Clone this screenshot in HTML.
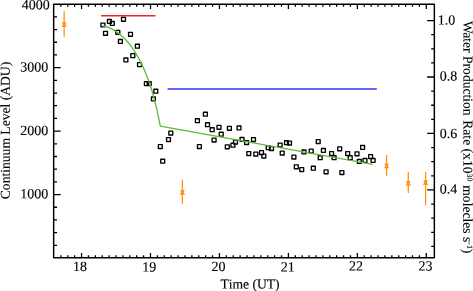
<!DOCTYPE html>
<html><head><meta charset="utf-8"><title>Continuum Level and Water Production Rate</title>
<style>html,body{margin:0;padding:0;background:#fff;}body{width:473px;height:291px;overflow:hidden;}svg{display:block;will-change:transform;}text{font-family:'Liberation Serif',serif;font-size:14px;fill:#000;stroke:#000;stroke-width:0.12px;font-kerning:none;white-space:pre;}</style></head><body>
<svg width="473" height="291" viewBox="0 0 473 291">
<rect width="473" height="291" fill="#fff"/>
<path d="M64.15 11.3V36.8" stroke="#ff9412" stroke-width="1.3" fill="none"/>
<path d="M61.95 22.20L66.35 22.20L65.45 24.50L66.85 26.80L61.45 26.80L62.85 24.50Z" fill="#ff9412"/>
<path d="M182.4 179.6V204.1" stroke="#ff9412" stroke-width="1.3" fill="none"/>
<path d="M180.20 190.10L184.60 190.10L183.70 192.40L185.10 194.70L179.70 194.70L181.10 192.40Z" fill="#ff9412"/>
<path d="M386.6 154.9V175.8" stroke="#ff9412" stroke-width="1.3" fill="none"/>
<path d="M384.40 163.60L388.80 163.60L387.90 165.90L389.30 168.20L383.90 168.20L385.30 165.90Z" fill="#ff9412"/>
<path d="M408.3 172.0V193.0" stroke="#ff9412" stroke-width="1.3" fill="none"/>
<path d="M406.10 180.90L410.50 180.90L409.60 183.20L411.00 185.50L405.60 185.50L407.00 183.20Z" fill="#ff9412"/>
<path d="M425.6 171.8V205.3" stroke="#ff9412" stroke-width="1.3" fill="none"/>
<path d="M423.40 180.30L427.80 180.30L426.90 182.60L428.30 184.90L422.90 184.90L424.30 182.60Z" fill="#ff9412"/>
<path d="M101.1 15.7H155.5" stroke="#e8262e" stroke-width="1.5" fill="none"/>
<path d="M167.6 89.0H376.8" stroke="#3434ff" stroke-width="1.5" fill="none"/>
<path d="M100.95 23.05h3.9v3.9h-3.9zM107.45 19.45h3.9v3.9h-3.9zM110.35 21.45h3.9v3.9h-3.9zM121.55 17.35h3.9v3.9h-3.9zM103.55 31.35h3.9v3.9h-3.9zM115.85 30.35h3.9v3.9h-3.9zM128.55 32.35h3.9v3.9h-3.9zM118.45 39.45h3.9v3.9h-3.9zM135.45 44.25h3.9v3.9h-3.9zM130.85 53.65h3.9v3.9h-3.9zM123.95 57.95h3.9v3.9h-3.9zM137.55 62.65h3.9v3.9h-3.9zM144.45 81.65h3.9v3.9h-3.9zM147.25 81.65h3.9v3.9h-3.9zM153.85 89.25h3.9v3.9h-3.9zM151.45 96.95h3.9v3.9h-3.9zM168.85 131.15h3.9v3.9h-3.9zM166.55 137.65h3.9v3.9h-3.9zM158.35 144.55h3.9v3.9h-3.9zM160.75 159.25h3.9v3.9h-3.9zM197.45 144.55h3.9v3.9h-3.9zM203.45 112.25h3.9v3.9h-3.9zM195.45 118.75h3.9v3.9h-3.9zM205.55 122.75h3.9v3.9h-3.9zM210.25 127.75h3.9v3.9h-3.9zM217.05 125.35h3.9v3.9h-3.9zM227.45 126.35h3.9v3.9h-3.9zM237.05 125.95h3.9v3.9h-3.9zM219.25 132.25h3.9v3.9h-3.9zM212.15 138.15h3.9v3.9h-3.9zM233.55 140.15h3.9v3.9h-3.9zM230.95 143.25h3.9v3.9h-3.9zM225.35 144.85h3.9v3.9h-3.9zM240.05 137.45h3.9v3.9h-3.9zM244.65 140.65h3.9v3.9h-3.9zM251.55 137.65h3.9v3.9h-3.9zM266.25 145.75h3.9v3.9h-3.9zM269.55 146.55h3.9v3.9h-3.9zM278.15 143.05h3.9v3.9h-3.9zM284.55 140.75h3.9v3.9h-3.9zM287.55 141.15h3.9v3.9h-3.9zM246.85 151.65h3.9v3.9h-3.9zM253.85 152.15h3.9v3.9h-3.9zM259.55 150.55h3.9v3.9h-3.9zM261.85 154.05h3.9v3.9h-3.9zM280.25 151.05h3.9v3.9h-3.9zM291.95 155.05h3.9v3.9h-3.9zM294.35 164.85h3.9v3.9h-3.9zM299.75 167.55h3.9v3.9h-3.9zM302.05 149.95h3.9v3.9h-3.9zM309.25 149.05h3.9v3.9h-3.9zM316.25 139.55h3.9v3.9h-3.9zM321.45 148.45h3.9v3.9h-3.9zM318.25 155.75h3.9v3.9h-3.9zM329.65 151.55h3.9v3.9h-3.9zM332.15 155.75h3.9v3.9h-3.9zM337.75 146.85h3.9v3.9h-3.9zM345.75 151.55h3.9v3.9h-3.9zM348.25 155.75h3.9v3.9h-3.9zM355.05 151.85h3.9v3.9h-3.9zM360.65 145.45h3.9v3.9h-3.9zM357.35 159.45h3.9v3.9h-3.9zM363.05 158.45h3.9v3.9h-3.9zM368.65 154.65h3.9v3.9h-3.9zM371.15 158.45h3.9v3.9h-3.9zM311.35 166.25h3.9v3.9h-3.9zM324.15 169.85h3.9v3.9h-3.9zM339.95 170.55h3.9v3.9h-3.9z" stroke="#000" stroke-width="1.35" stroke-linejoin="round" fill="none"/>
<path d="M103.10 25.79C103.59 25.93 105.08 26.32 106.05 26.64C107.01 26.96 107.95 27.31 108.88 27.70C109.80 28.08 110.71 28.50 111.60 28.95C112.49 29.39 113.37 29.88 114.22 30.38C115.08 30.89 115.92 31.43 116.74 31.99C117.56 32.55 118.37 33.15 119.16 33.76C119.95 34.38 120.73 35.02 121.48 35.68C122.24 36.35 122.99 37.04 123.71 37.74C124.44 38.45 125.15 39.19 125.85 39.93C126.55 40.68 127.23 41.46 127.90 42.24C128.57 43.03 129.22 43.84 129.86 44.66C130.50 45.48 131.13 46.32 131.74 47.17C132.36 48.02 132.96 48.89 133.54 49.76C134.13 50.64 134.70 51.53 135.26 52.43C135.82 53.33 136.37 54.25 136.91 55.16C137.44 56.08 137.97 57.01 138.48 57.95C138.99 58.88 139.49 59.82 139.98 60.77C140.47 61.71 140.95 62.67 141.42 63.62C141.88 64.57 142.34 65.53 142.79 66.49C143.23 67.45 143.67 68.42 144.09 69.38C144.52 70.35 144.94 71.32 145.34 72.29C145.75 73.26 146.14 74.23 146.53 75.21C146.92 76.19 147.30 77.17 147.66 78.15C148.03 79.13 148.39 80.11 148.75 81.10C149.10 82.08 149.44 83.07 149.78 84.06C150.11 85.05 150.44 86.04 150.76 87.04C151.08 88.03 151.39 89.02 151.70 90.02C152.00 91.02 152.30 92.01 152.59 93.01C152.89 94.01 153.17 95.01 153.45 96.01C153.73 97.02 154.00 98.02 154.26 99.02C154.53 100.03 154.79 101.03 155.05 102.03C155.30 103.04 155.55 104.05 155.79 105.05C156.04 106.06 156.28 107.07 156.51 108.07C156.74 109.08 156.97 110.09 157.20 111.10C157.42 112.10 157.64 113.11 157.86 114.12C158.08 115.13 158.29 116.13 158.50 117.14C158.71 118.15 158.92 119.16 159.12 120.16C159.32 121.17 159.52 122.18 159.72 123.18C159.92 124.19 160.21 125.70 160.30 126.20L372.7 164.4" stroke="#5cbb3c" stroke-width="1.3" fill="none" stroke-linejoin="round"/>
<path d="M60.86 257.70v-2.4M60.86 4.30v2.4M67.76 257.70v-2.4M67.76 4.30v2.4M74.65 257.70v-2.4M74.65 4.30v2.4M81.55 257.70v-4.8M81.55 4.30v4.8M88.45 257.70v-2.4M88.45 4.30v2.4M95.34 257.70v-2.4M95.34 4.30v2.4M102.24 257.70v-2.4M102.24 4.30v2.4M109.13 257.70v-2.4M109.13 4.30v2.4M116.03 257.70v-2.4M116.03 4.30v2.4M122.92 257.70v-2.4M122.92 4.30v2.4M129.81 257.70v-2.4M129.81 4.30v2.4M136.71 257.70v-2.4M136.71 4.30v2.4M143.60 257.70v-2.4M143.60 4.30v2.4M150.50 257.70v-4.8M150.50 4.30v4.8M157.40 257.70v-2.4M157.40 4.30v2.4M164.29 257.70v-2.4M164.29 4.30v2.4M171.19 257.70v-2.4M171.19 4.30v2.4M178.08 257.70v-2.4M178.08 4.30v2.4M184.98 257.70v-2.4M184.98 4.30v2.4M191.87 257.70v-2.4M191.87 4.30v2.4M198.76 257.70v-2.4M198.76 4.30v2.4M205.66 257.70v-2.4M205.66 4.30v2.4M212.55 257.70v-2.4M212.55 4.30v2.4M219.45 257.70v-4.8M219.45 4.30v4.8M226.35 257.70v-2.4M226.35 4.30v2.4M233.24 257.70v-2.4M233.24 4.30v2.4M240.14 257.70v-2.4M240.14 4.30v2.4M247.03 257.70v-2.4M247.03 4.30v2.4M253.93 257.70v-2.4M253.93 4.30v2.4M260.82 257.70v-2.4M260.82 4.30v2.4M267.71 257.70v-2.4M267.71 4.30v2.4M274.61 257.70v-2.4M274.61 4.30v2.4M281.50 257.70v-2.4M281.50 4.30v2.4M288.40 257.70v-4.8M288.40 4.30v4.8M295.30 257.70v-2.4M295.30 4.30v2.4M302.19 257.70v-2.4M302.19 4.30v2.4M309.09 257.70v-2.4M309.09 4.30v2.4M315.98 257.70v-2.4M315.98 4.30v2.4M322.88 257.70v-2.4M322.88 4.30v2.4M329.77 257.70v-2.4M329.77 4.30v2.4M336.66 257.70v-2.4M336.66 4.30v2.4M343.56 257.70v-2.4M343.56 4.30v2.4M350.45 257.70v-2.4M350.45 4.30v2.4M357.35 257.70v-4.8M357.35 4.30v4.8M364.25 257.70v-2.4M364.25 4.30v2.4M371.14 257.70v-2.4M371.14 4.30v2.4M378.04 257.70v-2.4M378.04 4.30v2.4M384.93 257.70v-2.4M384.93 4.30v2.4M391.83 257.70v-2.4M391.83 4.30v2.4M398.72 257.70v-2.4M398.72 4.30v2.4M405.61 257.70v-2.4M405.61 4.30v2.4M412.51 257.70v-2.4M412.51 4.30v2.4M419.40 257.70v-2.4M419.40 4.30v2.4M426.30 257.70v-4.8M426.30 4.30v4.8M53.65 245.31h3.4M53.65 232.62h3.4M53.65 219.93h3.4M53.65 207.24h3.4M53.65 194.55h7.0M53.65 181.86h3.4M53.65 169.17h3.4M53.65 156.48h3.4M53.65 143.79h3.4M53.65 131.10h7.0M53.65 118.41h3.4M53.65 105.72h3.4M53.65 93.03h3.4M53.65 80.34h3.4M53.65 67.65h7.0M53.65 54.96h3.4M53.65 42.27h3.4M53.65 29.58h3.4M53.65 16.89h3.4M434.35 246.39h-3.2M434.35 232.28h-3.2M434.35 218.16h-3.2M434.35 204.04h-3.2M434.35 189.93h-7.2M434.35 175.82h-3.2M434.35 161.70h-3.2M434.35 147.59h-3.2M434.35 133.47h-7.2M434.35 119.35h-3.2M434.35 105.24h-3.2M434.35 91.12h-3.2M434.35 77.01h-7.2M434.35 62.89h-3.2M434.35 48.78h-3.2M434.35 34.66h-3.2M434.35 20.55h-7.2" stroke="#000" stroke-width="1.3" fill="none"/>
<path d="M53.65 4.3H434.35V257.7H53.65Z" stroke="#000" stroke-width="1.45" stroke-linejoin="round" fill="none"/>
<g class="t"><text transform="rotate(0.05 49.70 9.30)" x="49.70" y="9.30" text-anchor="end">4000</text><text transform="rotate(0.05 48.30 71.55)" x="48.30" y="71.55" text-anchor="end">3000</text><text transform="rotate(0.05 48.30 135.00)" x="48.30" y="135.00" text-anchor="end">2000</text><text transform="rotate(0.05 48.30 198.30)" x="48.30" y="198.30" text-anchor="end">1000</text><text transform="rotate(0.05 437.67 24.60)" x="437.67" y="24.60">1.0</text><text transform="rotate(0.05 439.87 80.50)" x="439.87" y="80.50">0.8</text><text transform="rotate(0.05 439.87 138.00)" x="439.87" y="138.00">0.6</text><text transform="rotate(0.05 439.87 193.40)" x="439.87" y="193.40">0.4</text><text transform="rotate(0.05 72.95 271.00)" x="72.95" y="271.00">18</text><text transform="rotate(0.05 142.15 271.50)" x="142.15" y="271.50">19</text><text transform="rotate(0.05 211.40 271.00)" x="211.40" y="271.00">20</text><text transform="rotate(0.05 280.70 271.40)" x="280.70" y="271.40">21</text><text transform="rotate(0.05 349.10 270.40)" x="349.10" y="270.40">22</text><text transform="rotate(0.05 418.40 270.50)" x="418.40" y="270.50">23</text><text transform="rotate(0.05 220.40 288.40)" x="220.40" y="288.40" style="font-size:13.6px">Time (UT)</text><text transform="translate(9.8 130.5) rotate(-90) rotate(0.05 0 0)" x="0.00" y="0.00" style="font-size:13.6px" text-anchor="middle">Continuum Level (ADU)</text><text transform="translate(463.4 20.9) rotate(90) rotate(0.05 115 0)" x="0" y="0" style="font-size:13.6px">W<tspan dx="-1.5">ater Production </tspan><tspan dx="1.2">Rate (x10</tspan><tspan dy="-4" style="font-size:7.8px">30</tspan><tspan dx="0.6" dy="4"> molecles s</tspan><tspan dy="-4" style="font-size:7.8px">-1</tspan><tspan dy="4">)</tspan></text></g>
</svg></body></html>
